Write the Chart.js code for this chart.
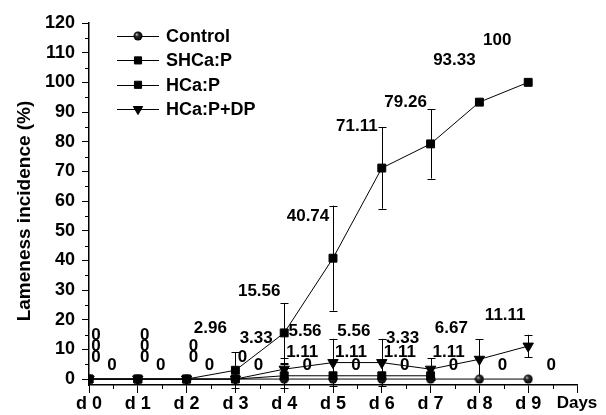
<!DOCTYPE html>
<html><head><meta charset="utf-8">
<script src="https://cdn.jsdelivr.net/npm/chart.js@4.4.0/dist/chart.umd.min.js"></script>
<style>html,body{margin:0;padding:0;background:#fff}</style>
</head><body>
<canvas id="c" width="606" height="415"></canvas>
<script>
// ---- data ----
const days = [0,1,2,3,4,5,6,7,8,9];
const xTickValues = [0,1,2,3,4,5,6,7,8,9,10];
const xTickLabels = ['d 0','d 1','d 2','d 3','d 4','d 5','d 6','d 7','d 8','d 9','Days'];
const yTickValues = [0,10,20,30,40,50,60,70,80,90,100,110,120];
const seriesNames = ['Control','SHCa:P','HCa:P','HCa:P+DP'];
const control   = [0,0,0,0,0,0,0,0,0,0];
const shcap     = [0,0,0,2.96,15.56,40.74,71.11,79.26,93.33,100];
const shcapErr  = [0,0,0,6,10,17.7,13.7,11.7,0,0];
const hcap      = [0,0,0,0,1.11,1.11,1.11,1.11,null,null];
const hcapErr   = [0,0,0,0,4,0,0,0,0,0];
const hcapdp    = [0,0,0,0,3.33,5.56,5.56,3.33,6.67,11.11];
const hcapdpErr = [0,0,0,0,3.7,8,8,3.7,6.8,3.8];

const FONT = "'Liberation Sans', Arial, sans-serif";

// shaded sphere marker for Control
const ball = document.createElement('canvas');
ball.width = 10; ball.height = 10;
(function(){
  const g = ball.getContext('2d');
  const gr = g.createRadialGradient(3.5,3.3,0.3,5,5,4.6);
  gr.addColorStop(0,'#b8b8b8'); gr.addColorStop(0.35,'#2a2a2a'); gr.addColorStop(1,'#000');
  g.fillStyle = gr; g.beginPath(); g.arc(5,5,4.5,0,Math.PI*2); g.fill();
})();

const pts = arr => days.map((d,i)=>({x:d, y:arr[i]}));
const styles = [
  {pointStyle: ball, pointRadius: 4.5, rotation: 0, order: 3},
  {pointStyle: 'rect', pointRadius: 5.6, rotation: 0, order: 2},
  {pointStyle: 'rect', pointRadius: 5.6, rotation: 0, order: 1},
  {pointStyle: 'triangle', pointRadius: 6, rotation: 180, order: 0},
];
const seriesData = [control, shcap, hcap, hcapdp];
const seriesErr = [null, shcapErr, hcapErr, hcapdpErr];

const datasets = seriesData.map((arr,k)=>({
  label: seriesNames[k], data: pts(arr), order: styles[k].order,
  borderColor:'#000', borderWidth:1, tension:0, spanGaps:false,
  pointStyle: styles[k].pointStyle, pointRadius: styles[k].pointRadius,
  pointRotation: styles[k].rotation,
  pointBackgroundColor:'#000', pointBorderColor:'#000', pointBorderWidth:1,
  pointHoverRadius: styles[k].pointRadius
}));

// value-label placement (pixel offsets from each point)
const labelPlacement = [
  {series:0, days:[0,1,2,3,4,5,6,7,8,9], dx:23, dy:-14},
  {series:1, days:[3,4,5,6,7,8], dx:-25, dy:-42},
  {series:1, days:[9], dx:-31, dy:-42},
  {series:3, days:[4,5,6,7,8], dx:-28, dy:-31},
  {series:3, days:[9], dx:-23, dy:-31},
  {series:2, days:[4,5,6,7], dx:18, dy:-23},
  {series:1, days:[0,1], dx:7, dy:-44},
  {series:3, days:[0,1,2], dx:7, dy:-33},
  {series:2, days:[0,1,2,3], dx:7, dy:-22},
];

const extras = {
  id:'extras',
  beforeDatasetsDraw(chart){
    const {ctx, scales:{x,y}} = chart;
    ctx.save(); ctx.strokeStyle='#000'; ctx.lineWidth=1;
    seriesErr.forEach((err,k)=>{
      if(!err) return;
      days.forEach((d,i)=>{
        const v = seriesData[k][i], e = err[i];
        if(v==null || !e) return;
        const px = Math.round(x.getPixelForValue(d))+0.5;
        const t = y.getPixelForValue(v+e), b = y.getPixelForValue(v-e);
        ctx.beginPath();
        ctx.moveTo(px,t); ctx.lineTo(px,b);
        ctx.moveTo(px-4,Math.round(t)+0.5); ctx.lineTo(px+4,Math.round(t)+0.5);
        ctx.moveTo(px-4,Math.round(b)+0.5); ctx.lineTo(px+4,Math.round(b)+0.5);
        ctx.stroke();
      });
    });
    ctx.restore();
  },
  afterDraw(chart){
    const {ctx, chartArea:ca, scales:{x,y}} = chart;
    ctx.save();
    // minor ticks
    ctx.strokeStyle='#000'; ctx.lineWidth=1;
    ctx.beginPath();
    for(let v=0.5; v<10; v+=1){
      const px = Math.round(x.getPixelForValue(v))+0.5;
      ctx.moveTo(px, ca.bottom); ctx.lineTo(px, ca.bottom+4);
    }
    for(let v=5; v<120; v+=10){
      const py = Math.round(y.getPixelForValue(v))+0.5;
      ctx.moveTo(ca.left, py); ctx.lineTo(ca.left-4, py);
    }
    ctx.stroke();
    // value labels
    ctx.fillStyle='#000';
    ctx.font = 'bold 17px ' + FONT;
    ctx.textAlign='center'; ctx.textBaseline='middle';
    labelPlacement.forEach(p=>{
      p.days.forEach(d=>{
        const v = seriesData[p.series][d];
        if(v==null) return;
        ctx.fillText(String(v), x.getPixelForValue(d)+p.dx, y.getPixelForValue(v)+p.dy);
      });
    });
    // legend
    ctx.font = 'bold 18px ' + FONT;
    ctx.textAlign='left';
    const lx = ca.left + 28, ly = ca.top + 13;
    seriesNames.forEach((name,k)=>{
      const yy = ly + k*24.4;
      ctx.beginPath(); ctx.lineWidth=1;
      ctx.moveTo(lx, Math.round(yy)+0.5); ctx.lineTo(lx+42, Math.round(yy)+0.5); ctx.stroke();
      ctx.fillStyle='#000'; ctx.strokeStyle='#000';
      Chart.helpers.drawPoint(ctx, {pointStyle: styles[k].pointStyle, radius: styles[k].pointRadius*0.9, rotation: styles[k].rotation, borderWidth:1}, lx+21, yy);
      ctx.fillText(name, lx+49, yy+1);
    });
    // y title
    ctx.save();
    ctx.translate(ca.left-64, (ca.top+ca.bottom)/2 + 7);
    ctx.rotate(-Math.PI/2);
    ctx.textAlign='center'; ctx.textBaseline='middle';
    ctx.font = 'bold 19px ' + FONT;
    ctx.fillText('Lameness incidence (%)', 0, 0);
    ctx.restore();
    ctx.restore();
  }
};

new Chart(document.getElementById('c'), {
  type:'line',
  data:{datasets},
  options:{
    responsive:false, animation:false,
    layout:{padding:{top:23, right:29, left:0, bottom:0}},
    plugins:{legend:{display:false}, tooltip:{enabled:false}},
    scales:{
      x:{
        type:'linear', min:0, max:10,
        afterBuildTicks: s => { s.ticks = xTickValues.map(v=>({value:v})); },
        afterFit: s => { s.height = 30; },
        ticks:{
          callback:(v,i)=>xTickLabels[i], color:'#000', padding:0,
          maxRotation:0, autoSkip:false,
          font: c => (c.tick && c.tick.value===10) ? {family:FONT, size:17, weight:'bold'} : {family:FONT, size:18, weight:'bold'}
        },
        grid:{drawOnChartArea:false, drawTicks:true, tickLength:8, color:'#000', lineWidth:1},
        border:{display:true, color:'#000', width:1.5}
      },
      y:{
        type:'linear', min:-2, max:120,
        afterBuildTicks: s => { s.ticks = yTickValues.map(v=>({value:v})); },
        afterFit: s => { s.width = 89; },
        ticks:{color:'#000', padding:7, font:{family:FONT, size:18, weight:'bold'}},
        grid:{drawOnChartArea:false, drawTicks:true, tickLength:7, color:'#000', lineWidth:1},
        border:{display:true, color:'#000', width:1.5}
      }
    }
  },
  plugins:[extras]
});
</script>
</body></html>
